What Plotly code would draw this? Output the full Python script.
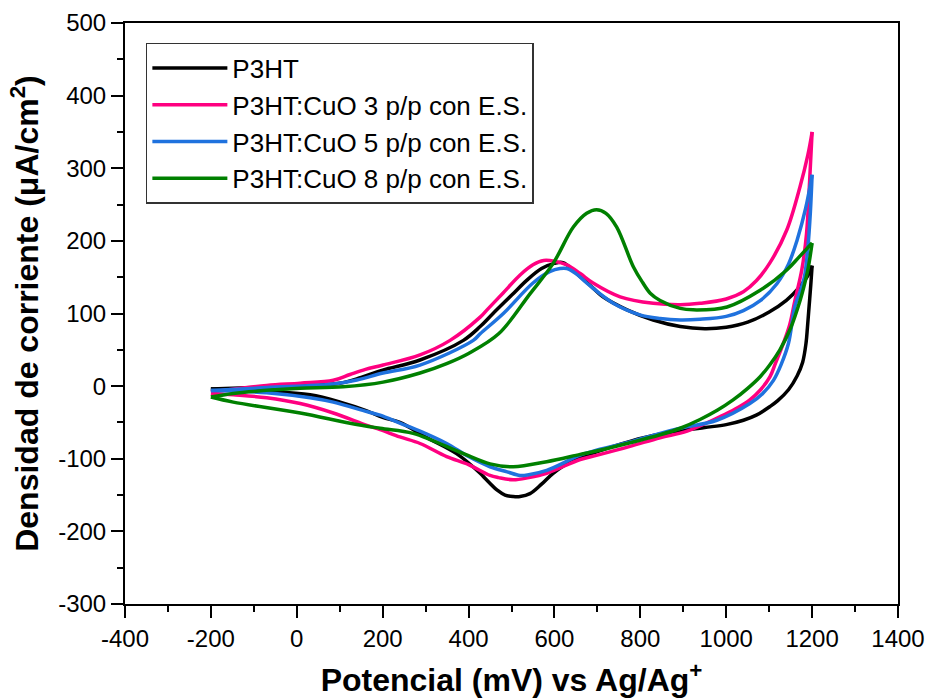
import plotly.graph_objects as go

# ---------------- data ----------------
names = ["P3HT", "P3HT:CuO 3 p/p con E.S.", "P3HT:CuO 5 p/p con E.S.", "P3HT:CuO 8 p/p con E.S."]
colors = ["#000000", "#FF0080", "#1F72DE", "#008000"]

# P3HT  (forward = anodic scan, reverse = cathodic scan; reverse starts at the vertex)
p3ht_fwd_x = [-200, -100, 0, 100, 150, 200, 287, 388, 427, 457, 500, 536, 570, 600, 620, 652, 690, 713, 769, 830, 893, 950, 1000, 1050, 1100, 1140, 1170, 1190, 1200]
p3ht_fwd_y = [-4, -2, 0, 4, 12, 22, 36, 63, 82, 100, 125, 146, 162, 169, 170, 155, 135, 123, 105, 91, 82, 79, 81, 88, 102, 118, 136, 152, 166]
p3ht_rev_x = [1200, 1197, 1193, 1189, 1186, 1178, 1165, 1145, 1120, 1102, 1070, 1040, 1000, 950, 900, 846, 776, 700, 644, 597, 570, 543, 520, 504, 485, 466, 440, 427, 372, 300, 240, 200, 163, 101, 31, -70, -200]
p3ht_rev_y = [166, 140, 110, 80, 60, 33, 14, -5, -20, -28, -40, -47, -53, -57, -61, -66, -76, -90, -102, -120, -135, -148, -152, -152, -150, -143, -128, -120, -93, -70, -50, -43, -34, -22, -12, -7, -4]

# P3HT:CuO 3 p/p
cuo3_fwd_x = [-200, -70, 8, 85, 124, 160, 201, 287, 357, 427, 443, 480, 520, 550, 575, 600, 629, 660, 690, 753, 830, 893, 939, 1000, 1040, 1070, 1102, 1141, 1172, 1190, 1200]
cuo3_fwd_y = [-8, 1, 4, 8, 16, 23, 29, 43, 63, 95, 105, 128, 153, 167, 173, 172, 167, 155, 142, 123, 114, 112, 114, 120, 130, 145, 170, 215, 275, 318, 350]
cuo3_rev_x = [1200, 1194, 1187, 1176, 1160, 1148, 1133, 1115, 1102, 1080, 1055, 1020, 986, 909, 846, 776, 700, 660, 582, 540, 504, 470, 450, 400, 349, 287, 240, 194, 163, 85, 8, -70, -148, -200]
cuo3_rev_y = [350, 280, 210, 160, 118, 85, 59, 32, 13, -5, -19, -32, -42, -62, -71, -83, -95, -101, -120, -126, -129, -126, -123, -108, -97, -79, -70, -60, -54, -37, -24, -16, -12, -10]

# P3HT:CuO 5 p/p
cuo5_fwd_x = [-200, -70, 85, 140, 201, 287, 411, 427, 481, 550, 590, 613, 629, 650, 675, 737, 799, 846, 893, 939, 1000, 1040, 1080, 1118, 1145, 1165, 1185, 1200]
cuo5_fwd_y = [-6, -2, 3, 8.5, 18, 29, 63, 72, 100, 142, 158, 162, 162, 155, 142, 114, 98, 93, 91, 92, 96, 104, 118, 141, 168, 201, 245, 291]
cuo5_rev_x = [1200, 1196, 1190, 1182, 1172, 1160, 1145, 1128, 1110, 1085, 1055, 978, 893, 846, 776, 700, 660, 582, 540, 520, 490, 450, 400, 349, 287, 240, 194, 163, 85, 31, -70, -200]
cuo5_rev_y = [291, 240, 190, 150, 130, 110, 59, 30, 8, -10, -24, -47, -58, -65, -77, -88, -95, -116, -122, -123, -118, -111, -97, -79, -62, -51, -40, -35, -22, -16, -9, -6]

# P3HT:CuO 8 p/p
cuo8_fwd_x = [-200, -148, -50, 8, 108, 201, 287, 349, 400, 470, 543, 597, 644, 675, 698, 720, 745, 784, 805, 823, 846, 893, 923, 1002, 1079, 1141, 1170, 1200]
cuo8_fwd_y = [-15, -10, -5, -3, -1, 5.5, 18, 31, 45, 72, 127, 169, 219, 238, 243, 238, 219, 164, 143, 128, 118, 107, 105, 109, 132, 160, 178, 197]
cuo8_rev_x = [1200, 1190, 1180, 1172, 1150, 1125, 1100, 1079, 1050, 1016, 980, 939, 893, 846, 776, 700, 660, 582, 504, 450, 388, 271, 194, 124, 8, -148, -200]
cuo8_rev_y = [197, 160, 135, 118, 80, 50, 28, 13, -3, -19, -33, -46, -58, -67, -78, -89, -94, -104, -111, -107, -93, -65, -58, -51, -37, -22, -15]

x_ticks = [-400, -200, 0, 200, 400, 600, 800, 1000, 1200, 1400]
y_ticks = [-300, -200, -100, 0, 100, 200, 300, 400, 500]

curves = [
    ((p3ht_fwd_x, p3ht_fwd_y), (p3ht_rev_x, p3ht_rev_y)),
    ((cuo3_fwd_x, cuo3_fwd_y), (cuo3_rev_x, cuo3_rev_y)),
    ((cuo5_fwd_x, cuo5_fwd_y), (cuo5_rev_x, cuo5_rev_y)),
    ((cuo8_fwd_x, cuo8_fwd_y), (cuo8_rev_x, cuo8_rev_y)),
]

FONT = "Liberation Sans, Arial, sans-serif"

fig = go.Figure()
for (fwd, rev), name, col in zip(curves, names, colors):
    for k, (xs, ys) in enumerate((fwd, rev)):
        fig.add_trace(go.Scatter(
            x=xs, y=ys, mode="lines", name=name, legendgroup=name,
            showlegend=(k == 0),
            line=dict(color=col, width=3.5, shape="spline", smoothing=1.0),
        ))

axis_common = dict(
    showline=True, linecolor="black", linewidth=2, mirror=True,
    ticks="outside", ticklen=12, tickwidth=2, tickcolor="black",
    showgrid=False, zeroline=False, automargin=False,
    tickfont=dict(family=FONT, size=24, color="black"),
)

fig.update_layout(
    width=930, height=698,
    margin=dict(l=125, r=32, t=23, b=94),
    paper_bgcolor="white", plot_bgcolor="white",
    font=dict(family=FONT, color="black"),
    xaxis=dict(
        range=[-400, 1400], tickvals=x_ticks, ticktext=[str(v) for v in x_ticks],
        minor=dict(ticks="outside", ticklen=6, tickwidth=2, tickcolor="black", dtick=100, tick0=-400),
        title=dict(text="Potencial (mV) vs Ag/Ag<sup>+</sup>",
                   font=dict(family=FONT, size=32, color="black", weight="bold"), standoff=20),
        **axis_common,
    ),
    yaxis=dict(
        range=[-300, 500], tickvals=y_ticks, ticktext=[str(v) for v in y_ticks],
        minor=dict(ticks="outside", ticklen=6, tickwidth=2, tickcolor="black", dtick=50, tick0=-300),
        title=dict(text="Densidad de corriente (μA/cm<sup>2</sup>)",
                   font=dict(family=FONT, size=32, color="black", weight="bold"), standoff=10),
        **axis_common,
    ),
    legend=dict(
        x=0.027, y=0.9656, xanchor="left", yanchor="top",
        bgcolor="white", bordercolor="#333333", borderwidth=1.5,
        font=dict(family=FONT, size=26, color="black"),
        itemwidth=75, tracegroupgap=0, groupclick="togglegroup",
    ),
    showlegend=True,
)

fig.write_html("out.html", config={"displayModeBar": False},
               post_script="document.body.style.margin='0px';")
